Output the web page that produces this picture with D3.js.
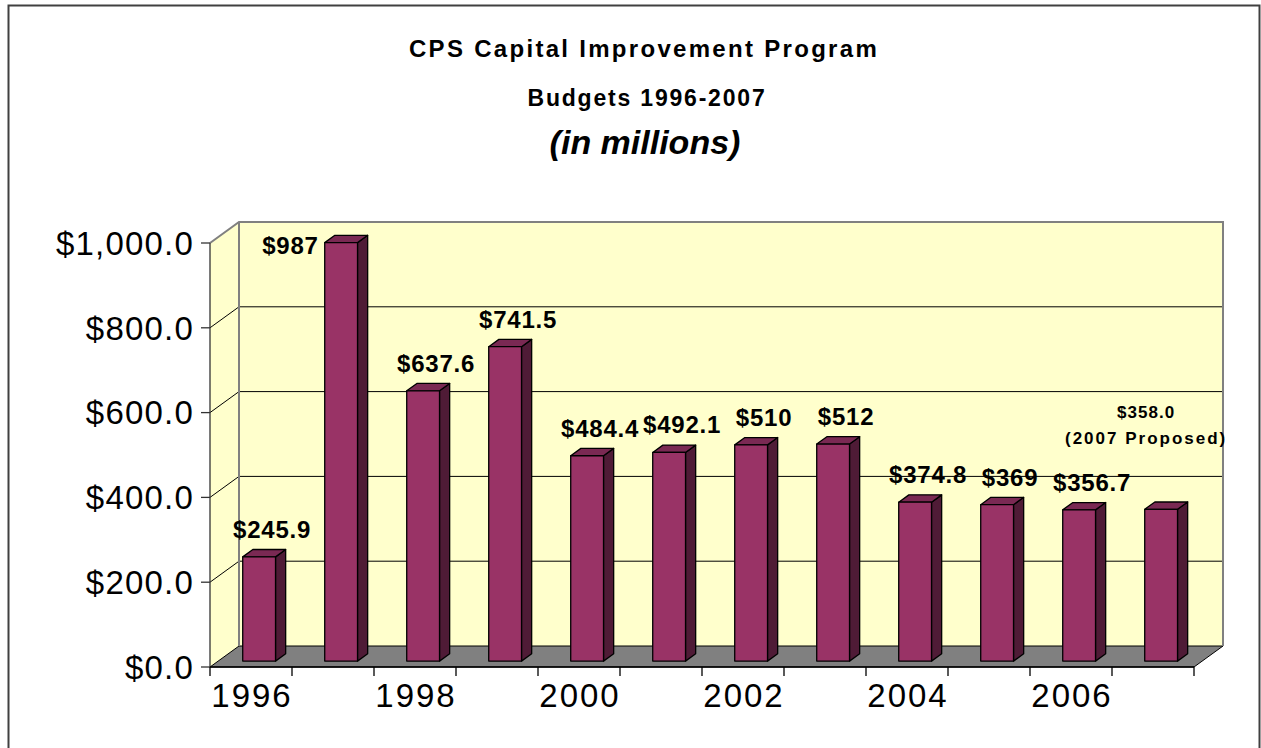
<!DOCTYPE html>
<html><head><meta charset="utf-8">
<script src="https://cdnjs.cloudflare.com/ajax/libs/d3/7.8.5/d3.min.js"></script>
<style>
body{margin:0;background:#fff;}
svg{display:block;font-family:"Liberation Sans",Arial,sans-serif;}
</style>
</head><body>
<svg id="chart" width="1261" height="748"></svg>
<script>
// ---- data ----
const years = [1996, 1997, 1998, 1999, 2000, 2001, 2002, 2003, 2004, 2005, 2006, 2007];
const budgets = [245.9, 987, 637.6, 741.5, 484.4, 492.1, 510, 512, 374.8, 369, 356.7, 358.0];
const valueLabels = ["$245.9", "$987", "$637.6", "$741.5", "$484.4", "$492.1", "$510", "$512", "$374.8", "$369", "$356.7", ""];
const proposedLabel = ["$358.0", "(2007 Proposed)"];
const yTicks = [0, 200, 400, 600, 800, 1000];
const xTickLabels = ["1996", "", "1998", "", "2000", "", "2002", "", "2004", "", "2006", ""];
const titleLines = ["CPS Capital Improvement Program", "Budgets 1996-2007", "(in millions)"];

// ---- layout ----
const svg = d3.select("#chart");
const x0 = 210, x1 = 1194, yBase = 667, yTop = 243;
const DX = 29, DY = -21;          // depth of plot box
const f0 = 0.28, f1 = 0.63;       // bar front / back depth fractions

const x = d3.scaleBand().domain(years).range([x0, x1]).padding(0);
const y = d3.scaleLinear().domain([0, 1000]).range([yBase, yTop]);
const step = x.step();
const barW = step * 0.4;

// outer frame
svg.append("rect").attr("x", 8.5).attr("y", 5.5).attr("width", 1251).attr("height", 760)
  .attr("fill", "#fff").attr("stroke", "#404040").attr("stroke-width", 2);

// titles
const tg = svg.append("g").attr("text-anchor", "middle").attr("fill", "#000");
tg.append("text").attr("x", 644).attr("y", 57).attr("font-size", 24).attr("font-weight", "bold")
  .attr("letter-spacing", 2.3).text(titleLines[0]);
tg.append("text").attr("x", 647).attr("y", 106).attr("font-size", 23).attr("font-weight", "bold")
  .attr("letter-spacing", 1.8).text(titleLines[1]);
tg.append("text").attr("x", 645).attr("y", 154).attr("font-size", 34).attr("font-weight", "bold")
  .attr("font-style", "italic").text(titleLines[2]);

// walls
const pt = p => p.map(d => d.join(",")).join(" ");
const yT = y(1000), yB = y(0);
svg.append("polygon").attr("points", pt([[x0 + DX, yT + DY], [x1 + DX, yT + DY], [x1 + DX, yB + DY], [x0 + DX, yB + DY]]))
  .attr("fill", "#FFFFCC");
svg.append("polygon").attr("points", pt([[x0, yB], [x0 + DX, yB + DY], [x0 + DX, yT + DY], [x0, yT]]))
  .attr("fill", "#FFFFCC");
// floor
svg.append("polygon").attr("points", pt([[x0, yB], [x1, yB], [x1 + DX, yB + DY], [x0 + DX, yB + DY]]))
  .attr("fill", "#808080").attr("stroke", "#000").attr("stroke-width", 1);

// gridlines
const grid = svg.append("g").attr("fill", "none");
yTicks.filter(t => t > 0 && t < 1000).forEach(t => {
  grid.append("polyline").attr("points", pt([[x0, y(t)], [x0 + DX, y(t) + DY], [x1 + DX, y(t) + DY]]))
    .attr("stroke", "#000").attr("stroke-width", 1);
});
// wall edges (grey)
grid.append("polyline").attr("points", pt([[x0, yT], [x0 + DX, yT + DY], [x1 + DX, yT + DY], [x1 + DX, yB + DY]]))
  .attr("stroke", "#808080").attr("stroke-width", 2);
grid.append("line").attr("x1", x0 + DX).attr("x2", x0 + DX).attr("y1", yT + DY).attr("y2", yB + DY)
  .attr("stroke", "#808080").attr("stroke-width", 2);

// bars
const bars = svg.append("g").attr("stroke", "#000").attr("stroke-width", 1.3).attr("stroke-linejoin", "round");
years.forEach((yr, i) => {
  const v = budgets[i];
  const fx = x(yr) + (step - barW) / 2 + DX * f0;
  const fy0 = y(0) + DY * f0, fy1 = y(v) + DY * f0;
  const bdx = DX * (f1 - f0), bdy = DY * (f1 - f0);
  bars.append("polygon").attr("points", pt([[fx + barW, fy1], [fx + barW + bdx, fy1 + bdy], [fx + barW + bdx, fy0 + bdy], [fx + barW, fy0]]))
    .attr("fill", "#4F1B36");
  bars.append("polygon").attr("points", pt([[fx, fy1], [fx + bdx, fy1 + bdy], [fx + barW + bdx, fy1 + bdy], [fx + barW, fy1]]))
    .attr("fill", "#7A2953");
  bars.append("rect").attr("x", fx).attr("y", fy1).attr("width", barW).attr("height", fy0 - fy1)
    .attr("fill", "#993366");
});

// value labels
const lab = svg.append("g").attr("font-size", 24).attr("font-weight", "bold").attr("fill", "#000")
  .attr("letter-spacing", 0.8);
years.forEach((yr, i) => {
  if (!valueLabels[i]) return;
  const v = budgets[i];
  const fx = x(yr) + (step - barW) / 2 + DX * f0;
  const fy1 = y(v) + DY * f0;
  if (fy1 - 40 < yT + DY) {
    lab.append("text").attr("x", fx - 6).attr("y", fy1 + 11).attr("text-anchor", "end").text(valueLabels[i]);
  } else {
    lab.append("text").attr("x", fx + barW / 2 + 13).attr("y", fy1 - 19).attr("text-anchor", "middle").text(valueLabels[i]);
  }
});
// proposed label for 2007
{
  const i = years.length - 1;
  const cx = x(years[i]) + step / 2 + DX * f0 - 15;
  const yy = y(budgets[i]);
  const g = svg.append("g").attr("font-size", 17).attr("font-weight", "bold").attr("text-anchor", "middle");
  g.append("text").attr("x", cx).attr("y", yy - 97).attr("letter-spacing", 1).text(proposedLabel[0]);
  g.append("text").attr("x", cx).attr("y", yy - 71).attr("letter-spacing", 2).text(proposedLabel[1]);
}

// y axis
const ya = svg.append("g");
ya.append("line").attr("x1", x0).attr("x2", x0).attr("y1", yT).attr("y2", yB).attr("stroke", "#333").attr("stroke-width", 1.3);
yTicks.forEach(t => {
  ya.append("line").attr("x1", x0 - 9).attr("x2", x0).attr("y1", y(t)).attr("y2", y(t)).attr("stroke", "#333").attr("stroke-width", 1.3);
  ya.append("text").attr("x", 194).attr("y", y(t)).attr("dy", "0.36em").attr("text-anchor", "end")
    .attr("font-size", 33).attr("letter-spacing", 1.2).text(d3.format("$,.1f")(t));
});

// x axis
const xa = svg.append("g");
xa.append("line").attr("x1", x0).attr("x2", x1).attr("y1", yB).attr("y2", yB).attr("stroke", "#000").attr("stroke-width", 1.3);
d3.range(years.length + 1).forEach(k => {
  const xx = x0 + k * step;
  xa.append("line").attr("x1", xx).attr("x2", xx).attr("y1", yB).attr("y2", yB + 9).attr("stroke", "#000").attr("stroke-width", 1.3);
});
years.forEach((yr, i) => {
  if (!xTickLabels[i]) return;
  xa.append("text").attr("x", x(yr) + step / 2 + 1).attr("y", 707).attr("text-anchor", "middle")
    .attr("font-size", 33).attr("letter-spacing", 2).text(xTickLabels[i]);
});
</script>
</body></html>
